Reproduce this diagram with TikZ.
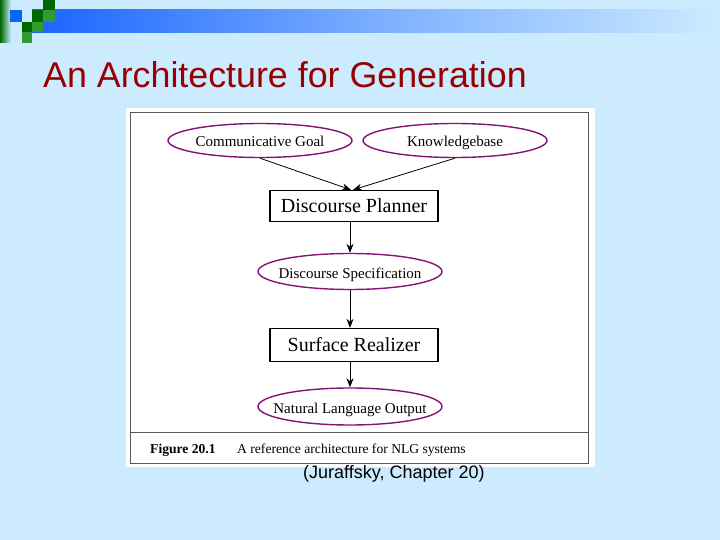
\documentclass[tikz,border=0pt]{standalone}
\usepackage{fontspec}
\setmainfont{Liberation Serif}
\newfontfamily\arialfont{Liberation Sans}
\usetikzlibrary{shapes.geometric,arrows.meta}
\definecolor{bgblue}{RGB}{204,235,255}
\definecolor{barblue}{RGB}{25,100,255}
\definecolor{titlered}{RGB}{153,0,0}
\definecolor{ellpurple}{RGB}{130,20,120}
\definecolor{dgreen}{RGB}{0,102,0}
\definecolor{mgreen}{RGB}{51,153,51}
\definecolor{sqblue}{RGB}{0,102,255}
\newcommand{\ztext}[1]{\makebox[0pt]{#1}}
\tikzset{
  ell/.style={ellipse,draw=ellpurple,line width=1.4pt,fill=white,minimum width=184pt,minimum height=34pt,inner sep=0pt,text height=13pt,text depth=0pt,font=\fontsize{15}{17}\selectfont},
  stagebox/.style={rectangle,draw=black,line width=1.3pt,fill=white,minimum width=168pt,minimum height=31pt,inner sep=0pt,font=\fontsize{20}{22}\selectfont},
  arr/.style={-{Stealth[length=9pt,width=7pt]},line width=0.8pt,black},
}
\begin{document}
\begin{tikzpicture}[x=1pt,y=-1pt]
\useasboundingbox (0,0) rectangle (720,540);
\fill[bgblue] (0,0) rectangle (720,540);
% top bar
\shade[left color=barblue,right color=bgblue,middle color=barblue!45!bgblue] (32,10) rectangle (720,33);
\shade[left color=dgreen,right color=bgblue] (0,0) rectangle (11,43);
\fill[sqblue] (10,10) rectangle (22,22);
\fill[dgreen] (43,0) rectangle (55,10);
\fill[dgreen] (32,10) rectangle (43,22);
\fill[mgreen] (43,10) rectangle (55,22);
\fill[dgreen] (22,22) rectangle (32,32);
\fill[mgreen] (32,22) rectangle (43,32);
\fill[mgreen] (22,32) rectangle (32,43);
% title
\node[anchor=base west,inner sep=0pt,text=titlered,font=\arialfont\fontsize{35.8}{40}\selectfont] (title) at (43,88) {An Architecture for Generation};
% figure frame
\fill[white] (126,108) rectangle (595,467);
\draw[gray!70!black,line width=0.9pt] (130,112) rectangle (588,463);
\draw[gray!70!black,line width=0.9pt] (130,432) -- (588,432);
% nodes
\node[ell] (cg) at (260,140.5) {\ztext{Communicative Goal}};
\node[ell] (kb) at (455,140.5) {\ztext{Knowledgebase}};
\node[stagebox] (dp) at (354,206) {Discourse Planner};
\node[ell,minimum height=36pt] (ds) at (350,271.5) {\ztext{Discourse Specification}};
\node[stagebox,minimum height=33pt] (sr) at (354,345) {Surface Realizer};
\node[ell,minimum height=37pt] (nlo) at (350,406.5) {\ztext{Natural Language Output}};
% connectors
\draw[arr] (cg.south) -- ([xshift=-3pt]dp.north);
\draw[arr] (kb.south) -- ([xshift=-1pt]dp.north);
\draw[arr] (ds.north |- dp.south) -- (ds.north);
\draw[arr] (ds.south) -- (ds.south |- sr.north);
\draw[arr] (nlo.north |- sr.south) -- (nlo.north);
% caption
\node[anchor=base west,inner sep=0pt,font=\bfseries\fontsize{13.6}{15}\selectfont] (figno) at (150,453) {Figure 20.1};
\node[anchor=base west,inner sep=0pt,font=\fontsize{13.6}{15}\selectfont] (cap) at (237,453) {A reference architecture for NLG systems};
\node[anchor=base west,inner sep=0pt,font=\arialfont\fontsize{18}{20}\selectfont] (src) at (303,478) {(Juraffsky, Chapter 20)};
\end{tikzpicture}
\end{document}
